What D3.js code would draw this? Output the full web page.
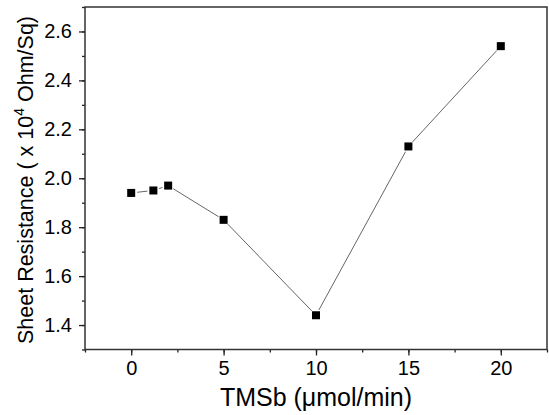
<!DOCTYPE html>
<html>
<head>
<meta charset="utf-8">
<script src="https://cdn.jsdelivr.net/npm/d3@7"></script>
<style>
  body { margin: 0; background: #fff; }
  text { font-family: "Liberation Sans", Arial, sans-serif; fill: #000; }
</style>
</head>
<body>
<script>
// data
var flow = [0, 1.2, 2, 5, 10, 15, 20];              // TMSb, umol/min
var resistance = [1.94, 1.95, 1.97, 1.83, 1.44, 2.13, 2.54]; // x 10^4 Ohm/Sq
var xTicks = [0, 5, 10, 15, 20];
var yTicks = [1.4, 1.6, 1.8, 2.0, 2.2, 2.4, 2.6];

var w = 549, h = 415;
var padL = 85, padR = 547, padT = 7, padB = 349.5;

var svg = d3.select("body").append("svg")
  .attr("width", w)
  .attr("height", h);

var x = d3.scaleLinear().domain([-2.5, 22.5]).range([padL, padR]);
var y = d3.scaleLinear().domain([1.3, 2.7]).range([padB, padT]);

// minor ticks first, then the major axes on top
svg.append("g")
  .attr("transform", "translate(0," + padB + ")")
  .call(d3.axisBottom(x).tickValues(d3.range(-2.5, 22.6, 2.5)).tickSize(3).tickFormat(""))
  .call(function(g){ g.select(".domain").remove(); });

svg.append("g")
  .attr("transform", "translate(" + padL + ",0)")
  .call(d3.axisLeft(y).tickValues(d3.range(1.3, 2.71, 0.1)).tickSize(3).tickFormat(""))
  .call(function(g){ g.select(".domain").remove(); });

var xAxis = svg.append("g")
  .attr("transform", "translate(0," + padB + ")")
  .call(d3.axisBottom(x).tickValues(xTicks).tickSize(6).tickPadding(5).tickFormat(d3.format("d")));
xAxis.select(".domain").remove();
xAxis.selectAll("text").attr("font-size", 20).attr("font-family", "Liberation Sans, Arial");

var yAxis = svg.append("g")
  .attr("transform", "translate(" + padL + ",0)")
  .call(d3.axisLeft(y).tickValues(yTicks).tickSize(6).tickPadding(7).tickFormat(d3.format(".1f")));
yAxis.select(".domain").remove();
yAxis.selectAll("text").attr("font-size", 20).attr("font-family", "Liberation Sans, Arial");

svg.selectAll(".tick line").attr("stroke", "#222").attr("stroke-width", 1.3);

// frame
svg.append("rect")
  .attr("x", padL)
  .attr("y", padT)
  .attr("width", padR - padL)
  .attr("height", padB - padT)
  .attr("fill", "none")
  .attr("stroke", "#333")
  .attr("stroke-width", 1.5);

// connecting line, broken near each marker
var pts = flow.map(function(d, i){ return [x(d), y(resistance[i])]; });
var gap = 6;
var segs = d3.pairs(pts).map(function(p){
  var dx = p[1][0] - p[0][0], dy = p[1][1] - p[0][1];
  var len = Math.sqrt(dx*dx + dy*dy);
  var ux = dx/len, uy = dy/len;
  return [p[0][0] + ux*gap, p[0][1] + uy*gap, p[1][0] - ux*gap, p[1][1] - uy*gap];
});
svg.selectAll(".seg").data(segs).enter().append("line")
  .attr("class", "seg")
  .attr("x1", function(d){ return d[0]; })
  .attr("y1", function(d){ return d[1]; })
  .attr("x2", function(d){ return d[2]; })
  .attr("y2", function(d){ return d[3]; })
  .attr("stroke", "#666")
  .attr("stroke-width", 1);

svg.selectAll(".pt").data(flow).enter().append("rect")
  .attr("class", "pt")
  .attr("x", function(d){ return x(d) - 4; })
  .attr("y", function(d, i){ return y(resistance[i]) - 4; })
  .attr("width", 8)
  .attr("height", 8)
  .attr("fill", "#000");

// axis titles
svg.append("text")
  .attr("x", (padL + padR) / 2)
  .attr("y", 406)
  .attr("text-anchor", "middle")
  .attr("font-size", 25)
  .text("TMSb (\u03BCmol/min)");

var yt = svg.append("text")
  .attr("transform", "translate(33,180) rotate(-90)")
  .attr("text-anchor", "middle")
  .attr("font-size", 21.5);
yt.append("tspan").text("Sheet Resistance ( x 10");
yt.append("tspan").attr("font-size", 14).attr("dy", -9).text("4");
yt.append("tspan").attr("dy", 9).text(" Ohm/Sq)");
</script>
</body>
</html>
